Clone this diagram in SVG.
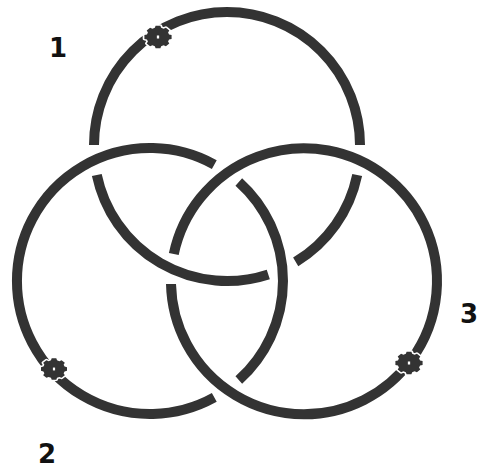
<svg xmlns="http://www.w3.org/2000/svg" width="479" height="468" viewBox="0 0 479 468">
  <style>
    .ring { fill: none; stroke: #333333; stroke-width: 10; stroke-linecap: butt; }
    .cog { fill: #333333; stroke: #ffffff; stroke-width: 3; paint-order: stroke; stroke-linejoin: round; }
    .dot { fill: #ffffff; }
    .lbl { font-family: "DejaVu Sans", "Liberation Sans", sans-serif; font-weight: bold; font-size: 26px; fill: #111111; text-anchor: middle; }
  </style>
  <defs>
    <g id="cogShape">
      <path class="cog" d="M11.82,-2.08 L11.82,2.08 L9.61,2.76 L8.75,4.85 L9.83,6.88 L6.88,9.83 L4.85,8.75 L2.76,9.61 L2.08,11.82 L-2.08,11.82 L-2.76,9.61 L-4.85,8.75 L-6.88,9.83 L-9.83,6.88 L-8.75,4.85 L-9.61,2.76 L-11.82,2.08 L-11.82,-2.08 L-9.61,-2.76 L-8.75,-4.85 L-9.83,-6.88 L-6.88,-9.83 L-4.85,-8.75 L-2.76,-9.61 L-2.08,-11.82 L2.08,-11.82 L2.76,-9.61 L4.85,-8.75 L6.88,-9.83 L9.83,-6.88 L8.75,-4.85 L9.61,-2.76 Z"/>
      <rect class="dot" x="-1" y="-1.6" width="2" height="3.2"/>
    </g>
  </defs>
  <rect width="479" height="468" fill="#ffffff"/>
  <g id="ring1">
    <path class="ring" d="M357.2,175.0 A133,133 0 0 1 295.7,261.9"/>
    <path class="ring" d="M268.3,274.4 A133,133 0 0 1 96.8,175.0"/>
    <path class="ring" d="M94.0,145.0 A133,133 0 0 1 360.0,145.0"/>
    <use href="#cogShape" transform="translate(158,37) scale(1.15,0.95)"/>
    <text class="lbl" x="58" y="57">1</text>
  </g>
  <g id="ring2">
    <path class="ring" d="M214.3,397.4 A133,133 0 1 1 214.3,164.6"/>
    <path class="ring" d="M238.8,182.0 A133,133 0 0 1 238.8,380.0"/>
    <use href="#cogShape" transform="translate(54,369) scale(1.1,0.9)"/>
    <text class="lbl" x="47" y="463">2</text>
  </g>
  <g id="ring3">
    <path class="ring" d="M173.8,254.0 A133,133 0 1 1 171.0,284.0"/>
    <use href="#cogShape" transform="translate(409,363) scale(1.15,0.95)"/>
    <text class="lbl" x="469" y="323">3</text>
  </g>
</svg>
